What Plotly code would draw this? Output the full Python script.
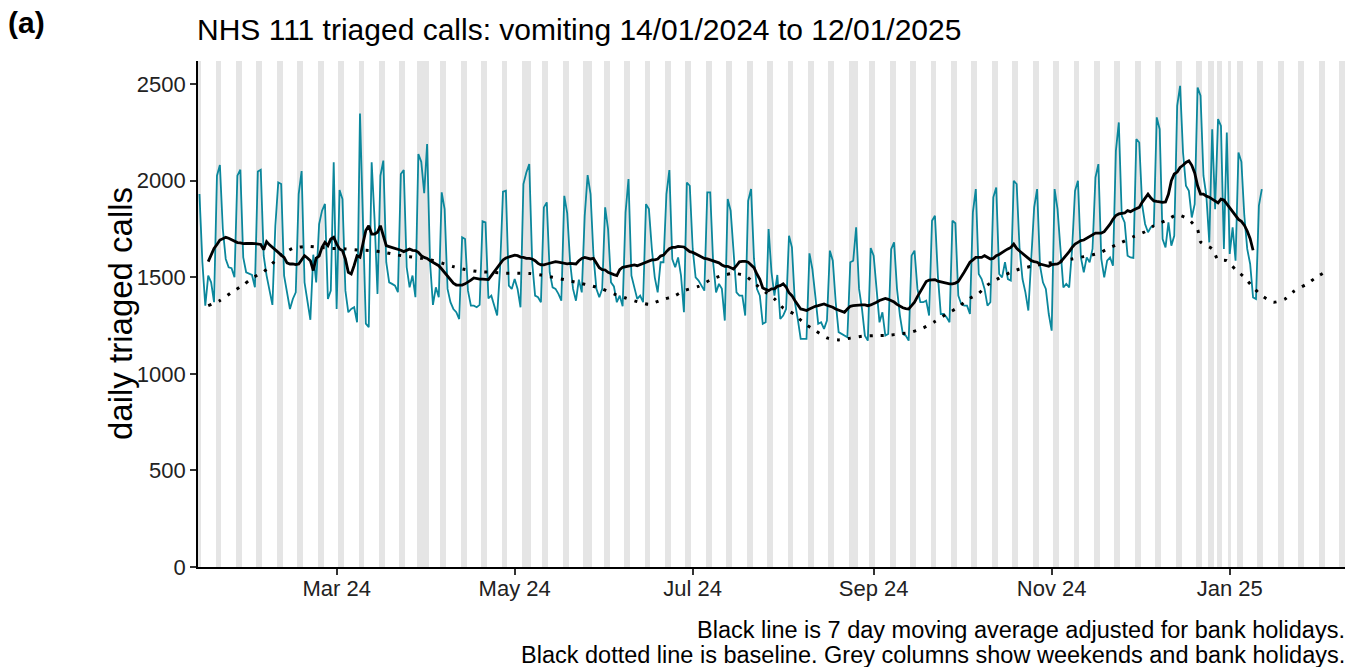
import pandas as pd
import plotly.graph_objects as go

START_DATE = "2024-01-14"

# daily triaged calls, one value per day from 14/01/2024 to 12/01/2025
daily_calls = [
    1931, 1578, 1353, 1509, 1474, 1371, 2026, 2081, 1750, 1595,
    1552, 1547, 1500, 2026, 2057, 1603, 1526, 1517, 1512, 1448,
    2048, 2057, 1612, 1509, 1440, 1357, 1767, 1991, 1983, 1509,
    1422, 1336, 1388, 1422, 1931, 2050, 1474, 1385, 1280, 1617,
    1474, 1776, 1845, 1880, 1388, 1431, 2095, 1336, 1952, 1905,
    1431, 1319, 1336, 1345, 1267, 2348, 1733, 1260, 1242, 2095,
    1800, 1414, 2026, 2104, 1578, 1474, 1466, 1457, 1423, 2035,
    2055, 1552, 1448, 1509, 1397, 2138, 2098, 1936, 2190, 1578,
    1357, 1448, 1397, 1940, 1853, 1440, 1371, 1336, 1319, 1284,
    1707, 1698, 1431, 1353, 1353, 1345, 1357, 1790, 1784, 1391,
    1405, 1353, 1302, 1543, 1943, 1948, 1457, 1440, 1491, 1440,
    1345, 1983, 2043, 2086, 1578, 1405, 1397, 1371, 1862, 1888,
    1526, 1448, 1440, 1414, 1379, 1922, 1833, 1578, 1440, 1379,
    1488, 1422, 1819, 2029, 1931, 1612, 1440, 1397, 1440, 1862,
    1750, 1474, 1453, 1371, 1405, 1350, 1836, 2009, 1509, 1448,
    1388, 1405, 1371, 1879, 1853, 1647, 1500, 1422, 1578, 1578,
    1931, 2055, 1595, 1552, 1603, 1509, 1319, 1991, 1974, 1647,
    1500, 1483, 1457, 1431, 1940, 1940, 1578, 1422, 1466, 1440,
    1276, 1905, 1845, 1629, 1422, 1405, 1405, 1302, 1896, 1957,
    1595, 1440, 1405, 1259, 1267, 1750, 1526, 1405, 1512, 1284,
    1302, 1336, 1715, 1655, 1371, 1284, 1181, 1181, 1181, 1624,
    1543, 1405, 1259, 1267, 1233, 1276, 1638, 1586, 1371, 1216,
    1207, 1198, 1190, 1578, 1586, 1759, 1440, 1336, 1198, 1172,
    1652, 1612, 1422, 1267, 1319, 1198, 1207, 1646, 1681, 1440,
    1302, 1207, 1198, 1172, 1612, 1638, 1440, 1371, 1371, 1379,
    1302, 1793, 1819, 1509, 1310, 1310, 1293, 1267, 1793, 1780,
    1405, 1362, 1353, 1353, 1310, 1836, 1957, 1517, 1491, 1440,
    1353, 1371, 1914, 1965, 1517, 1500, 1578, 1491, 1483, 2000,
    1983, 1647, 1491, 1422, 1328, 1578, 1862, 1957, 1560, 1474,
    1440, 1310, 1224, 1957, 1853, 1647, 1448, 1466, 1448, 1647,
    1948, 2000, 1603, 1526, 1603, 1578, 1647, 2017, 2086, 1595,
    1500, 1586, 1603, 1560, 2155, 2302, 1819, 1784, 1612, 1603,
    1600, 2215, 2198, 1875, 1776, 1733, 1759, 1767, 2328, 2267,
    1698, 1655, 1784, 1664, 1715, 2388, 2491, 2146, 1974, 1948,
    1810, 1879, 2483, 2440, 2026, 1922, 1681, 2267, 1853, 2319,
    2284, 1647, 2250, 1621, 1759, 1586, 2146, 2098, 1819, 1647,
    1569, 1396, 1388, 1871, 1957,
]

# 7 day moving average (first value is for 17/01/2024)
ma_first_day = 3
moving_avg = [
    1581, 1615, 1650, 1670, 1693, 1700, 1707, 1702, 1695, 1686,
    1680, 1678, 1674, 1675, 1676, 1676, 1674, 1672, 1670, 1643,
    1685, 1668, 1655, 1647, 1629, 1615, 1603, 1575, 1569, 1570,
    1566, 1569,
    1590, 1612, 1600, 1586, 1535, 1600, 1610, 1655, 1681, 1664,
    1698, 1707, 1673, 1647, 1638, 1595, 1526, 1517, 1561, 1612,
    1604, 1673, 1742, 1767, 1724, 1724, 1733, 1767, 1716, 1664,
    1659, 1655, 1650, 1647, 1640, 1633, 1638, 1647,
    1640, 1638, 1629, 1612, 1603, 1598, 1586, 1578, 1570, 1560,
    1543, 1526, 1509, 1491, 1470, 1460, 1460, 1460, 1466, 1474,
    1485, 1497, 1492, 1491, 1491, 1491, 1488, 1509, 1530, 1550,
    1570, 1590, 1600, 1605, 1612, 1615, 1612, 1605, 1603, 1598,
    1598, 1595, 1586, 1572, 1565, 1564, 1569, 1574, 1578, 1581,
    1578, 1574, 1572, 1570, 1572, 1570,
    1569, 1586, 1598, 1603, 1598, 1595, 1598, 1575, 1550, 1540,
    1538, 1526, 1522, 1514, 1509, 1540, 1552, 1555, 1560, 1560,
    1564, 1560, 1566, 1575, 1580, 1586, 1590, 1590, 1595, 1610,
    1615, 1633, 1648, 1655, 1655, 1660, 1660, 1657, 1645, 1633,
    1629, 1621, 1612, 1603, 1598, 1595, 1590, 1583, 1580, 1575,
    1564, 1557, 1557, 1552, 1543, 1560, 1580, 1583, 1583, 1578,
    1566, 1550, 1517, 1490, 1445, 1440, 1431,
    1440, 1440, 1453, 1457, 1466, 1450, 1420, 1405, 1380, 1355,
    1336, 1333, 1328, 1336, 1345, 1350, 1353, 1357, 1362, 1355,
    1350, 1345, 1336, 1330, 1322, 1319, 1336, 1350, 1353, 1355,
    1357, 1357, 1357, 1353, 1357, 1362, 1371, 1380, 1386, 1391,
    1386, 1381, 1372, 1360, 1350, 1342, 1338, 1336, 1353, 1371,
    1400, 1425, 1450, 1478, 1486, 1488, 1488, 1480, 1476, 1472,
    1468, 1466, 1466, 1470, 1478,
    1500, 1526, 1552, 1578, 1590, 1603, 1603, 1603, 1612, 1603,
    1595, 1598, 1612, 1618, 1630, 1638, 1647, 1655, 1672, 1650,
    1636, 1623, 1612, 1595, 1586, 1581, 1578, 1569, 1565, 1564,
    1557, 1566, 1567, 1569, 1578, 1595, 1615, 1633, 1655, 1672,
    1681, 1690, 1693, 1703, 1710, 1720, 1729, 1729, 1729, 1736,
    1755, 1775, 1800, 1820, 1828, 1830, 1833, 1845, 1840, 1848,
    1855,
    1862, 1888, 1910, 1931, 1910, 1896, 1893, 1891, 1888, 1890,
    1930, 2000, 2035, 2045, 2069, 2080, 2095, 2103, 2080, 2040,
    1974, 1931, 1931, 1920, 1915, 1905, 1896, 1885, 1905, 1900,
    1880, 1860, 1840, 1818, 1800, 1790, 1770, 1740, 1700, 1640,
]

# baseline (day number counted from 14/01/2024, value)
baseline_day = [
    3, 7, 11, 15, 18, 22, 25, 28, 32, 37, 41, 45, 50, 54, 59, 63, 68, 72,
    76, 79, 83, 87, 91, 96, 100, 105, 109, 113, 117, 121, 125, 130, 134,
    138, 142, 146, 150, 154, 158, 163, 166, 171, 175, 179, 183, 187, 190,
    194, 197, 200, 204, 207, 211, 215, 219, 223, 227, 231, 236, 240, 244,
    248, 252, 256, 260, 263, 267, 270, 274, 278, 281, 285, 289, 295, 299,
    303, 308, 312, 316, 320, 324, 327, 331, 335, 339, 342, 343, 347, 349,
    352, 355, 358, 361, 364, 368, 372, 375, 379, 383, 387,
]
baseline_value = [
    1353, 1379, 1422, 1460, 1496, 1529, 1572, 1615, 1650, 1660, 1655, 1650,
    1647, 1642, 1638, 1630, 1615, 1607, 1598, 1591, 1574, 1555, 1540, 1529,
    1526, 1521, 1521, 1520, 1512, 1500, 1488, 1471, 1457, 1440, 1414, 1393,
    1374, 1360, 1381, 1405, 1431, 1453, 1486, 1509, 1520, 1509, 1471, 1422,
    1388, 1341, 1307, 1264, 1224, 1186, 1176, 1185, 1195, 1198, 1200, 1207,
    1216, 1238, 1271, 1310, 1345, 1383, 1417, 1460, 1496, 1526, 1543, 1557,
    1569, 1583, 1595, 1607, 1624, 1653, 1681, 1710, 1736, 1767, 1793, 1824,
    1798, 1747, 1684, 1647, 1591, 1586, 1540, 1500, 1448, 1405, 1371, 1388,
    1428, 1462, 1503, 1540,
]

bank_holidays = ["2024-03-29", "2024-04-01", "2024-05-06", "2024-05-27",
                 "2024-08-26", "2024-12-25", "2024-12-26", "2025-01-01"]
shade_first, shade_last = "2024-01-13", "2025-02-09"

tick_dates = ["2024-03-01", "2024-05-01", "2024-07-01", "2024-09-01",
              "2024-11-01", "2025-01-01"]
tick_labels = ["Mar 24", "May 24", "Jul 24", "Sep 24", "Nov 24", "Jan 25"]
y_ticks = [0, 500, 1000, 1500, 2000, 2500]
Y_TOP = 2620

title_text = "NHS 111 triaged calls: vomiting 14/01/2024 to 12/01/2025"
caption_1 = "Black line is 7 day moving average adjusted for bank holidays."
caption_2 = "Black dotted line is baseline. Grey columns show weekends and bank holidays."

# ---------------------------------------------------------------------------
start = pd.Timestamp(START_DATE)
day = pd.Timedelta(days=1)
dates = [start + i * day for i in range(len(daily_calls))]
ma_dates = [start + (ma_first_day + i) * day for i in range(len(moving_avg))]
bl_dates = [start + d * day for d in baseline_day]
shade_days = [d for d in pd.date_range(shade_first, shade_last)
              if d.weekday() >= 5 or d.strftime("%Y-%m-%d") in bank_holidays]

FONT = "Liberation Sans"
fig = go.Figure()
fig.add_trace(go.Bar(
    x=shade_days, y=[Y_TOP] * len(shade_days), width=86400000,
    marker=dict(color="#E5E5E5", line=dict(width=0)), hoverinfo="skip"))
fig.add_trace(go.Scatter(
    x=dates, y=daily_calls, mode="lines",
    line=dict(color="#0B879C", width=1.8)))
fig.add_trace(go.Scatter(
    x=bl_dates, y=baseline_value, mode="lines",
    line=dict(color="black", width=3, dash="3px,8px", shape="spline",
              smoothing=0.6)))
fig.add_trace(go.Scatter(
    x=ma_dates, y=moving_avg, mode="lines",
    line=dict(color="black", width=2.8)))

x_left = start - 0.5 * day
x_right = start + 392.5 * day

fig.update_layout(
    width=1362, height=667,
    margin=dict(l=198, r=17, t=61, b=100),
    plot_bgcolor="white", paper_bgcolor="white",
    showlegend=False, barmode="overlay", bargap=0,
    font=dict(family=FONT, color="#1a1a1a"),
)
fig.update_xaxes(
    type="date", range=[x_left, x_right],
    tickmode="array", tickvals=tick_dates, ticktext=tick_labels,
    showline=True, linecolor="black", linewidth=1.8,
    ticks="outside", ticklen=6, tickwidth=1.5, tickcolor="#333333",
    ticklabelstandoff=-5,
    showgrid=False, zeroline=False,
    tickfont=dict(family=FONT, size=22, color="#222222"),
)
fig.update_yaxes(
    range=[0, Y_TOP], tickmode="array", tickvals=y_ticks,
    showline=True, linecolor="black", linewidth=1.8,
    ticks="outside", ticklen=6, tickwidth=1.5, tickcolor="#333333",
    showgrid=False, zeroline=False,
    tickfont=dict(family=FONT, size=22, color="#222222"),
)

W, H = 1147.0, 506.0
def px(xp):
    return (xp - 198) / W
def py(yp):
    return (567 - yp) / H

fig.add_annotation(text="<b>(a)</b>", xref="paper", yref="paper",
                   x=px(6), y=py(22), xanchor="left", yanchor="middle",
                   showarrow=False, font=dict(family=FONT, size=30, color="black"))
fig.add_annotation(text=title_text, xref="paper", yref="paper",
                   x=px(195), y=py(30), xanchor="left", yanchor="middle",
                   showarrow=False, font=dict(family=FONT, size=30, color="black"))
fig.add_annotation(text="daily triaged calls", xref="paper", yref="paper",
                   x=px(120), y=0.5, xanchor="center", yanchor="middle",
                   textangle=-90, showarrow=False,
                   font=dict(family=FONT, size=33, color="black"))
fig.add_annotation(text=caption_1, xref="paper", yref="paper",
                   x=px(1346), y=py(630), xanchor="right", yanchor="middle",
                   showarrow=False, borderpad=0,
                   font=dict(family=FONT, size=23.5, color="black"))
fig.add_annotation(text=caption_2, xref="paper", yref="paper",
                   x=px(1346), y=py(655), xanchor="right", yanchor="middle",
                   showarrow=False, borderpad=0,
                   font=dict(family=FONT, size=23.5, color="black"))

fig.write_html("out.html", config={"displayModeBar": False},
               post_script="document.body.style.margin='0';")
